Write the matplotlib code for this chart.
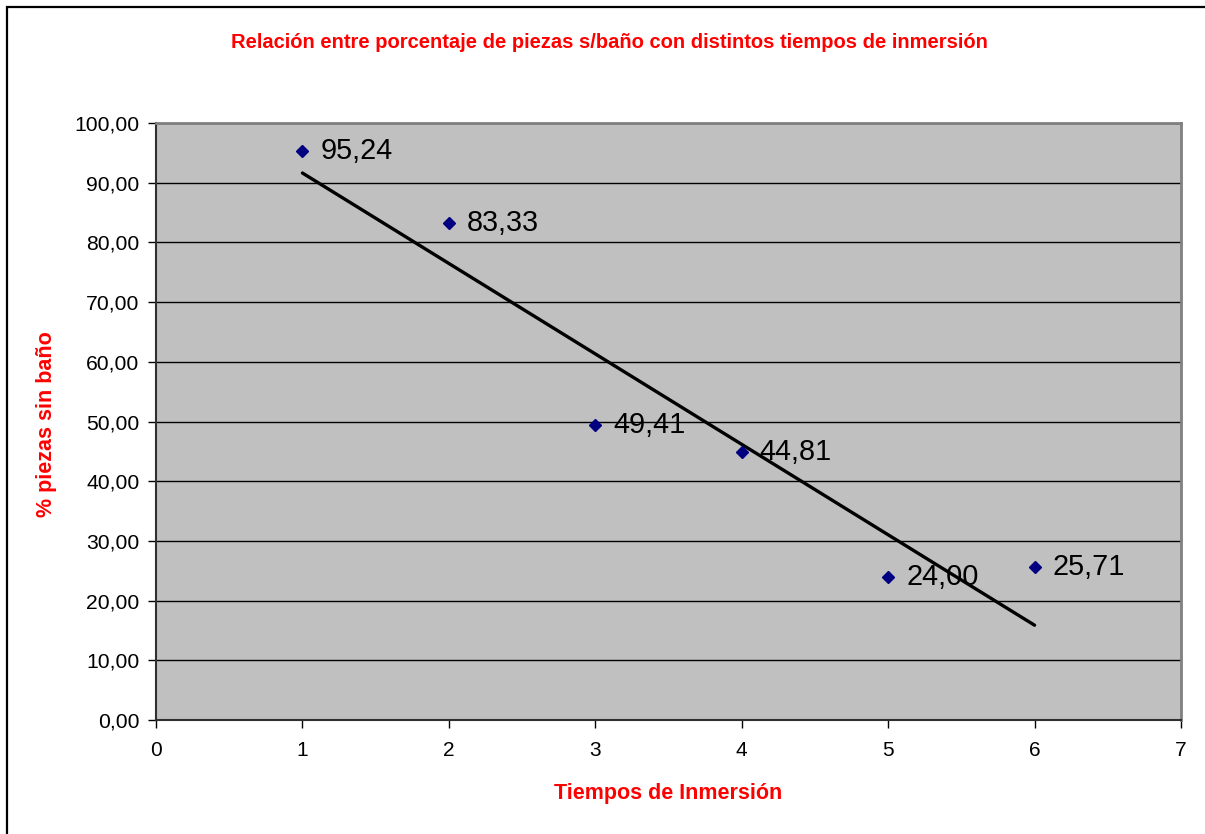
import matplotlib
matplotlib.use("Agg")
import matplotlib.pyplot as plt
import numpy as np
from matplotlib.patches import Rectangle

plt.rcParams['font.family'] = ['Liberation Sans', 'DejaVu Sans']

tiempos = [1, 2, 3, 4, 5, 6]
porcentaje = [95.24, 83.33, 49.41, 44.81, 24.00, 25.71]
y_ticks = [0, 10, 20, 30, 40, 50, 60, 70, 80, 90, 100]
x_ticks = [0, 1, 2, 3, 4, 5, 6, 7]

title = "Relación entre porcentaje de piezas s/baño con distintos tiempos de inmersión"
xlabel = "Tiempos de Inmersión"
ylabel = "% piezas sin baño"

W, H = 1205, 834
fig = plt.figure(figsize=(W / 100, H / 100), dpi=100)
fig.patch.set_facecolor('white')

# outer chart border
fig.add_artist(Rectangle((7 / W, -0.05), 1.2, 1 - 7 / H + 0.05, transform=fig.transFigure,
                         fill=False, edgecolor='black', linewidth=1.6))

ax = fig.add_axes([156 / W, 1 - 720 / H, (1181 - 156) / W, (720 - 123) / H])
ax.set_facecolor('#C0C0C0')
ax.set_xlim(0, 7)
ax.set_ylim(0, 100)
ax.set_xticks(x_ticks)
ax.set_yticks(y_ticks)
ax.set_xticklabels([str(v) for v in x_ticks], fontsize=15)
ax.set_yticklabels([f"{v:.2f}".replace('.', ',') for v in y_ticks], fontsize=15.2)
ax.tick_params(axis='both', direction='out', length=6, width=1, color='black', pad=6)
ax.tick_params(axis='x', pad=9)

ax.yaxis.grid(True, color='black', linewidth=1)
ax.set_axisbelow(True)

for s in ['top', 'right']:
    ax.spines[s].set_color('#808080')
    ax.spines[s].set_linewidth(2)
for s in ['left', 'bottom']:
    ax.spines[s].set_color('#303030')
    ax.spines[s].set_linewidth(1.5)

# trendline (linear regression)
coef = np.polyfit(tiempos, porcentaje, 1)
xs = np.array([min(tiempos), max(tiempos)])
ax.plot(xs, np.polyval(coef, xs), color='black', linewidth=2.4, zorder=3,
        solid_capstyle='round')

ax.plot(tiempos, porcentaje, linestyle='none', marker='D', markersize=6.5,
        color='#000080', zorder=4)

for x, y in zip(tiempos, porcentaje):
    ax.annotate(f"{y:.2f}".replace('.', ','), (x, y), xytext=(13, 0),
                textcoords='offset points', va='center', ha='left',
                fontsize=20.8, color='black', zorder=5)

fig.text(609 / W, 1 - 43 / H, title, ha='center', va='center', fontsize=14.5,
         fontweight='bold', color='#FF0000')
fig.text(668 / W, 1 - 793 / H, xlabel, ha='center', va='center', fontsize=15.5,
         fontweight='bold', color='#FF0000')
fig.text(47 / W, 1 - 424 / H, ylabel, ha='center', va='center', fontsize=15.5,
         fontweight='bold', color='#FF0000', rotation=90)

fig.savefig('out.png', dpi=100)
